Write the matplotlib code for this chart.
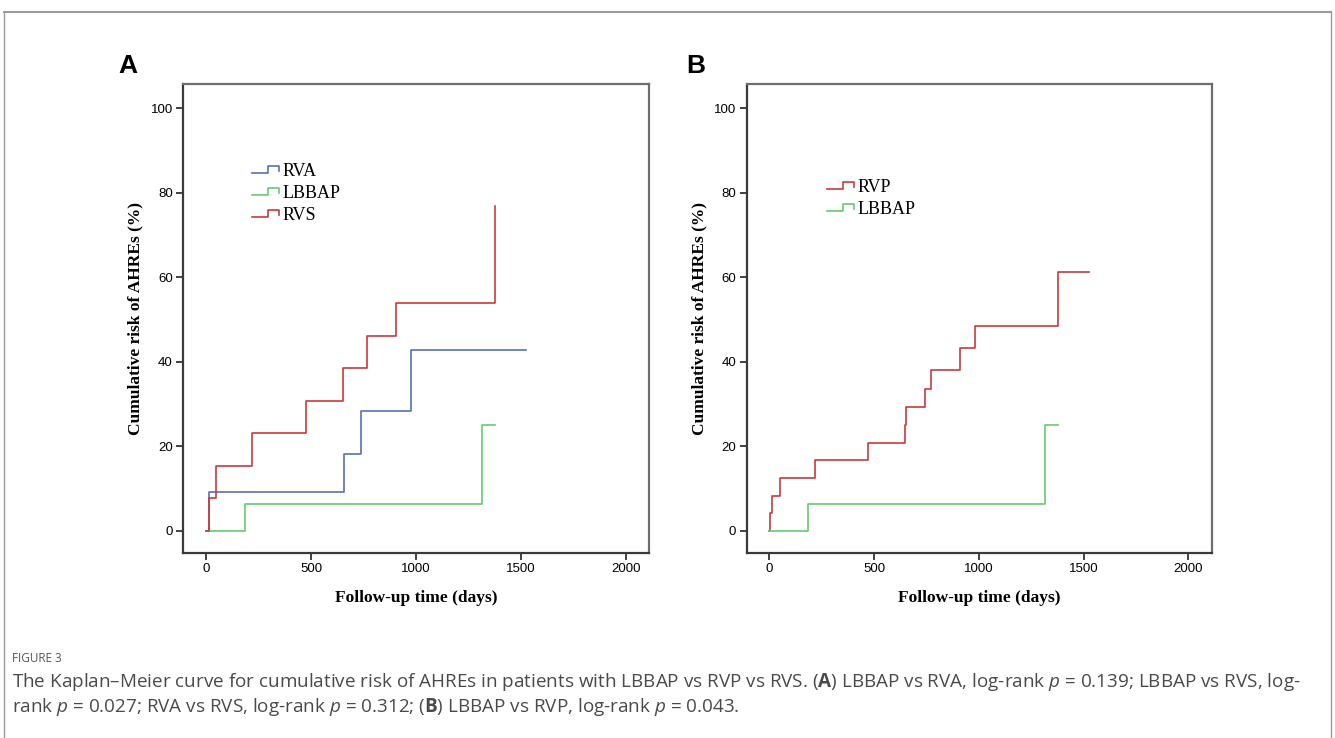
import matplotlib
matplotlib.use("Agg")
import matplotlib.pyplot as plt
from matplotlib.lines import Line2D
from matplotlib.legend_handler import HandlerLine2D

# ---------------- data ----------------
x_ticks = [0, 500, 1000, 1500, 2000]
y_ticks = [0, 20, 40, 60, 80, 100]

# Panel A
a_rva_t = [0, 14, 655, 740, 978, 1523]
a_rva_v = [0, 9.1, 18.2, 28.4, 42.9, 42.9]
a_lbbap_t = [0, 185, 1313, 1376]
a_lbbap_v = [0, 6.25, 25.0, 25.0]
a_rvs_t = [0, 14, 50, 217, 475, 652, 766, 906, 1378]
a_rvs_v = [0, 7.7, 15.4, 23.1, 30.8, 38.5, 46.2, 53.8, 76.9]

# Panel B
b_rvp_t = [0, 5, 13, 49, 216, 473, 648, 651, 742, 771, 908, 981, 1380, 1524]
b_rvp_v = [0, 4.2, 8.3, 12.5, 16.7, 20.8, 25.0, 29.2, 33.6, 38.1, 43.3, 48.4, 61.3, 61.3]
b_lbbap_t = [0, 184, 1314, 1376]
b_lbbap_v = [0, 6.25, 25.0, 25.0]

labels_a = ["RVA", "LBBAP", "RVS"]
labels_b = ["RVP", "LBBAP"]

BLUE = "#5670b8"
GREEN = "#63cc72"
RED = "#c93a3a"

W, H = 1335, 738
fig = plt.figure(figsize=(W / 100, H / 100), dpi=100)
fig.patch.set_facecolor("white")

plt.rcParams["mathtext.fontset"] = "custom"
plt.rcParams["mathtext.rm"] = "Open Sans"
plt.rcParams["mathtext.it"] = "Open Sans:italic"
plt.rcParams["mathtext.bf"] = "Open Sans:bold"


def fbox(l, t, r, b):
    return [l / W, 1 - b / H, (r - l) / W, (b - t) / H]


class StepHandler(HandlerLine2D):
    def create_artists(self, legend, orig_handle, xdescent, ydescent,
                       width, height, fontsize, trans):
        x0 = -xdescent
        y0 = -ydescent
        xs = [x0, x0 + 0.55 * width, x0 + 0.55 * width, x0 + 0.95 * width, x0 + 0.95 * width]
        ys = [y0 + 0.2 * height, y0 + 0.2 * height, y0 + 0.8 * height,
              y0 + 0.8 * height, y0 + 0.4 * height]
        ln = Line2D(xs, ys, color=orig_handle.get_color(),
                    lw=orig_handle.get_linewidth(), transform=trans)
        return [ln]


def style_axes(ax):
    ax.set_xlim(-108, 2111)
    ax.set_ylim(-5.2, 105.75)
    ax.set_xticks(x_ticks)
    ax.set_yticks(y_ticks)
    for s in ["left", "bottom"]:
        ax.spines[s].set_color("#3a3a3a")
        ax.spines[s].set_linewidth(1.6)
    for s in ["top", "right"]:
        ax.spines[s].set_color("#6e6e6e")
        ax.spines[s].set_linewidth(1.6)
    ax.tick_params(direction="out", length=5, width=1.3, color="#333333",
                   labelsize=9.5, pad=2.5)
    for lab in ax.get_xticklabels() + ax.get_yticklabels():
        lab.set_fontfamily("Liberation Sans")
    ax.set_xlabel("Follow-up time (days)", family="Liberation Serif",
                  fontweight="bold", fontsize=12.5, labelpad=11)
    ax.set_ylabel("Cumulative risk of AHREs (%)", family="Liberation Serif",
                  fontweight="bold", fontsize=12.5, labelpad=5)


LEG_KW = dict(frameon=False, prop={"family": "Liberation Serif", "size": 13},
              handlelength=1.55, handletextpad=0.15, labelspacing=0.28,
              borderpad=0, borderaxespad=0,
              handler_map={Line2D: StepHandler()})

# Panel A
axA = fig.add_axes(fbox(183.3, 84, 649.3, 552.7))
hA1, = axA.step(a_rva_t, a_rva_v, where="post", color=BLUE, lw=1.2)
hA2, = axA.step(a_lbbap_t, a_lbbap_v, where="post", color=GREEN, lw=1.2)
hA3, = axA.step(a_rvs_t, a_rvs_v, where="post", color=RED, lw=1.2)
style_axes(axA)
axA.legend([hA1, hA2, hA3], labels_a, loc="upper left",
           bbox_to_anchor=(0.148, 0.832), **LEG_KW)

# Panel B
axB = fig.add_axes(fbox(746.7, 84, 1211.5, 552.7))
hB1, = axB.step(b_rvp_t, b_rvp_v, where="post", color=RED, lw=1.2)
hB2, = axB.step(b_lbbap_t, b_lbbap_v, where="post", color=GREEN, lw=1.2)
style_axes(axB)
axB.legend([hB1, hB2], labels_b, loc="upper left",
           bbox_to_anchor=(0.173, 0.798), **LEG_KW)

# Panel letters
fig.text(118 / W, 1 - 66 / H, "A", family="Liberation Sans", fontweight="bold",
         fontsize=19, va="center", ha="left")
fig.text(686 / W, 1 - 66 / H, "B", family="Liberation Sans", fontweight="bold",
         fontsize=19, va="center", ha="left")

# Outer frame (top, left, right)
frame_col = "#9a9a9a"
fig.add_artist(Line2D([4 / W, 1331 / W], [1 - 12 / H, 1 - 12 / H], color=frame_col, lw=1.5))
fig.add_artist(Line2D([4 / W, 4 / W], [1 - 12 / H, 0], color=frame_col, lw=1.0))
fig.add_artist(Line2D([1331 / W, 1331 / W], [1 - 12 / H, 0], color=frame_col, lw=1.0))

# Caption
fig.text(12 / W, 1 - 659 / H, "FIGURE 3", family="Open Sans", fontsize=8.5,
         color="#555555", va="center", ha="left")
line1 = ("The Kaplan\u2013Meier curve for cumulative risk of AHREs in patients with "
         "LBBAP vs RVP vs RVS. ($\\mathbf{A}$) LBBAP vs RVA, log-rank $\\mathit{p}$ = 0.139; "
         "LBBAP vs RVS, log-")
line2 = ("rank $\\mathit{p}$ = 0.027; RVA vs RVS, log-rank $\\mathit{p}$ = 0.312; "
         "($\\mathbf{B}$) LBBAP vs RVP, log-rank $\\mathit{p}$ = 0.043.")
fig.text(12 / W, 1 - 682 / H, line1, family="Open Sans", fontsize=13.6,
         color="#4a4a4a", va="center", ha="left")
fig.text(12 / W, 1 - 707 / H, line2, family="Open Sans", fontsize=13.6,
         color="#4a4a4a", va="center", ha="left")

fig.savefig("out.png", dpi=100, facecolor="white")
